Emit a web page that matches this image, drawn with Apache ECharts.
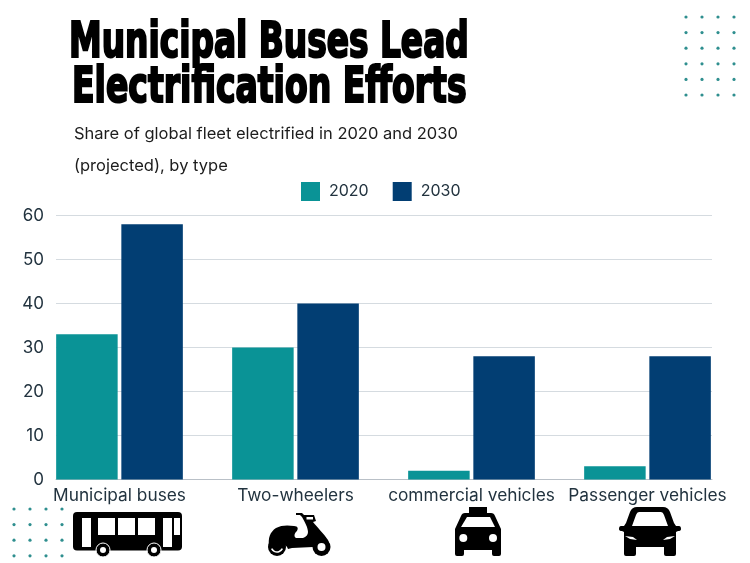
<!DOCTYPE html>
<html>
<head>
<meta charset="utf-8">
<style>html,body{margin:0;padding:0;background:#fff}#chart{width:750px;height:563px}</style>
<script src="https://cdn.jsdelivr.net/npm/echarts@6/dist/echarts.min.js"></script>
</head>
<body>
<div id="chart"></div>
<script>
// Fleet electrification shares by vehicle type
const categories = ['Municipal buses', 'Two-wheelers', 'commercial vehicles', 'Passenger vehicles'];
const share2020 = [33, 30, 2, 3];
const share2030 = [58, 40, 28, 28];

const TEAL = '#0a9396';
const NAVY = '#023e73';
const TEXT = '#22333f';
const BODY_FONT = 'Inter, "Open Sans", sans-serif';
const TITLE_FONT = '"Liberation Sans Narrow", "DejaVu Sans Condensed", sans-serif';

// Silhouettes for the icons under the axis
const shapes = {
  scooterBody: 'M1 34C0 26 2 20 8 16C13 13 20 13 26 14C30 14 31 17 28 20C26 22 26 25 28 26L35 26C38 25 40 23 40 20C40 16 37 10 34 5L32 3L28 3L28 1L34 1L36 3L46 3L48 9L45 10C49 15 56 22 60 28C62 32 62 36 61 38L45 35L24 36L20 37C18 31 10 31 8 36Z',
  taxiBody: 'M12 6H38Q41 6 42 9L48 22V47Q48 49 46 49H41Q39 49 39 47V43H11V47Q11 49 9 49H4Q2 49 2 47V22L8 9Q9 6 12 6Z',
  taxiGlass: 'M14 10H37L42 20H8Z',
  carBody: 'M18 0H44Q49 0 51 5L55 16L57 19H60Q62 19 62 22Q62 24 59 24L57 25V47Q57 49 55 49H47Q45 49 45 47V40H17V47Q17 49 15 49H7Q5 49 5 47V25L3 24Q0 24 0 22Q0 19 2 19H5L7 16L11 5Q13 0 18 0Z',
  carGlass: 'M20 5H42Q44 5 45 8L49 19H13L17 8Q18 5 20 5Z',
  carLampL: 'M6 29L14 30L18 33L11 32Z',
  carLampR: 'M56 29L48 30L44 33L51 32Z'
};
Object.keys(shapes).forEach(name => {
  echarts.graphic.registerShape(name, echarts.graphic.extendPath(shapes[name], {}));
});
const part = (type, fill) => ({ type, shape: {}, style: { fill } });

const chart = echarts.init(document.getElementById('chart'));

function dotField(x0, y0, cols, rows, dx, dy, r) {
  const dots = [];
  for (let i = 0; i < cols; i++) {
    for (let j = 0; j < rows; j++) {
      dots.push({
        type: 'circle', silent: true,
        shape: { cx: x0 + i * dx, cy: y0 + j * dy, r },
        style: { fill: '#2f8f8f' }
      });
    }
  }
  return dots;
}

function headline(text, x, y, sx) {
  return {
    type: 'text', x, y, scaleX: sx, silent: true,
    style: {
      text, x: 0, y: 0, fill: '#000', font: '700 50px ' + TITLE_FONT,
      stroke: '#000', lineWidth: 2.2
    }
  };
}

function caption(text, y) {
  return {
    type: 'text', x: 74, y, silent: true,
    style: { text, x: 0, y: 0, fill: '#1c1c1c', font: '400 16.5px ' + BODY_FONT }
  };
}

// Bus: body, cut-out windows and two wheels
const busParts = {
  type: 'group', x: 73, y: 512, silent: true,
  children: [
    { type: 'rect', shape: { x: 0, y: 0, width: 109, height: 38.5, r: 4 }, style: { fill: '#000' } },
    { type: 'rect', shape: { x: 9, y: 6, width: 9, height: 29 }, style: { fill: '#fff' } },
    { type: 'rect', shape: { x: 25, y: 6, width: 17, height: 17 }, style: { fill: '#fff' } },
    { type: 'rect', shape: { x: 45, y: 6, width: 17, height: 17 }, style: { fill: '#fff' } },
    { type: 'rect', shape: { x: 65, y: 6, width: 17, height: 17 }, style: { fill: '#fff' } },
    { type: 'rect', shape: { x: 90, y: 6, width: 9, height: 29 }, style: { fill: '#fff' } },
    { type: 'rect', shape: { x: 101, y: 6, width: 6, height: 17 }, style: { fill: '#fff' } },
    { type: 'circle', shape: { cx: 30, cy: 38, r: 7 }, style: { fill: '#000', stroke: '#fff', lineWidth: 1 } },
    { type: 'circle', shape: { cx: 30, cy: 38, r: 3 }, style: { fill: '#fff' } },
    { type: 'circle', shape: { cx: 81, cy: 38, r: 7 }, style: { fill: '#000', stroke: '#fff', lineWidth: 1 } },
    { type: 'circle', shape: { cx: 81, cy: 38, r: 3 }, style: { fill: '#fff' } }
  ]
};

// Scooter: body silhouette, handlebar basket, and wheels
const scooterParts = {
  type: 'group', x: 268, y: 512, silent: true,
  children: [
    part('scooterBody', '#000'),
    { type: 'rect', shape: { x: 38.5, y: 5, width: 6.5, height: 2.5 }, style: { fill: '#fff' } },
    { type: 'circle', shape: { cx: 9, cy: 35, r: 9 }, style: { fill: '#000' } },
    { type: 'arc', shape: { cx: 9, cy: 34, r: 6, startAngle: 0.15 * Math.PI, endAngle: 0.85 * Math.PI }, style: { stroke: '#fff', lineWidth: 1.6, fill: 'none' } },
    { type: 'circle', shape: { cx: 53.5, cy: 35, r: 9 }, style: { fill: '#000' } },
    { type: 'circle', shape: { cx: 53.5, cy: 35, r: 4 }, style: { fill: '#fff' } }
  ]
};

// Taxi, front view: roof sign, cab with windscreen, headlights
const taxiParts = {
  type: 'group', x: 453, y: 507, silent: true,
  children: [
    { type: 'rect', shape: { x: 16, y: 0, width: 18, height: 7 }, style: { fill: '#000' } },
    part('taxiBody', '#000'),
    part('taxiGlass', '#fff'),
    { type: 'circle', shape: { cx: 10.3, cy: 31, r: 4 }, style: { fill: '#fff' } },
    { type: 'circle', shape: { cx: 40, cy: 31, r: 4 }, style: { fill: '#fff' } }
  ]
};

// Passenger car, front view
const carParts = {
  type: 'group', x: 619, y: 507, silent: true,
  children: [
    part('carBody', '#000'),
    part('carGlass', '#fff'),
    part('carLampL', '#fff'),
    part('carLampR', '#fff')
  ]
};

const option = {
  backgroundColor: '#fff',
  animation: false,
  color: [TEAL, NAVY],
  textStyle: { fontFamily: BODY_FONT },
  legend: {
    top: 177, left: 296,
    itemWidth: 19, itemHeight: 19, itemGap: 24,
    icon: 'rect',
    data: ['2020', '2030'],
    textStyle: { color: TEXT, fontSize: 16, fontFamily: BODY_FONT, padding: [0, 0, 0, 4] }
  },
  // grid 0 carries the bars, grid 1 the value labels and horizontal rules
  grid: [
    { left: 31.5, width: 704, top: 215.5, height: 264 },
    { left: 56, width: 656, top: 215.5, height: 264 }
  ],
  xAxis: [
    {
      type: 'category', gridIndex: 0, data: categories,
      axisLine: { show: false }, axisTick: { show: false },
      axisLabel: { color: TEXT, fontSize: 17.3, margin: 8, interval: 0, fontFamily: BODY_FONT }
    },
    {
      type: 'value', gridIndex: 1, min: 0, max: 1,
      axisLine: { show: true, onZero: false, lineStyle: { color: '#b9c0c7', width: 1 } },
      axisTick: { show: false }, axisLabel: { show: false }, splitLine: { show: false }
    }
  ],
  yAxis: [
    {
      type: 'value', gridIndex: 0, min: 0, max: 60, interval: 10, show: false
    },
    {
      type: 'value', gridIndex: 1, min: 0, max: 60, interval: 10,
      axisLine: { show: false }, axisTick: { show: false },
      axisLabel: { color: TEXT, fontSize: 17, margin: 12, fontFamily: BODY_FONT },
      splitLine: { lineStyle: { color: '#d5dbe0', width: 1 } }
    }
  ],
  series: [
    { name: '2020', type: 'bar', xAxisIndex: 0, yAxisIndex: 0, data: share2020, barWidth: 61.5, barGap: '6%', itemStyle: { color: TEAL } },
    { name: '2030', type: 'bar', xAxisIndex: 0, yAxisIndex: 0, data: share2030, barWidth: 61.5, barGap: '6%', itemStyle: { color: NAVY } }
  ],
  graphic: [
    headline('Municipal Buses Lead', 69, 19, 0.73),
    headline('Electrification Efforts', 72, 64, 0.735),
    caption('Share of global fleet electrified in 2020 and 2030', 126),
    caption('(projected), by type', 158),
    ...dotField(686, 17, 4, 6, 16, 15.6, 1.6),
    ...dotField(14, 509, 4, 4, 16, 15.6, 1.6),
    busParts, scooterParts, taxiParts, carParts
  ]
};
chart.setOption(option);
</script>
</body>
</html>
